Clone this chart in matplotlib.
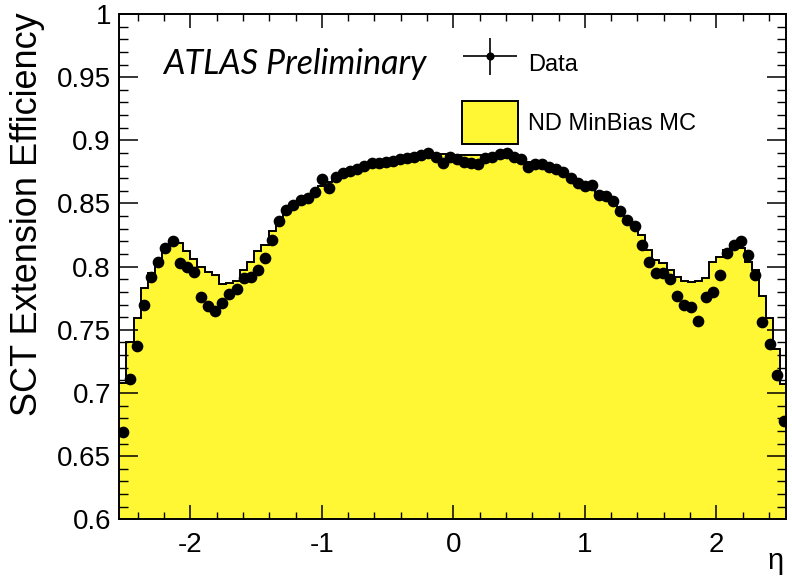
import numpy as np
import matplotlib
matplotlib.use("Agg")
import matplotlib.pyplot as plt
from matplotlib.ticker import MultipleLocator, FuncFormatter
from matplotlib.container import ErrorbarContainer
from matplotlib.legend_handler import HandlerErrorbar

plt.rcParams['axes.unicode_minus'] = False
plt.rcParams['font.family'] = ['Liberation Sans', 'DejaVu Sans']

# ---- data ----
eta_lo, eta_hi, n_bins = -2.54, 2.54, 94

data_eff = [
    0.669, 0.711, 0.737, 0.770, 0.792, 0.804, 0.815, 0.820, 0.803, 0.800,
    0.796, 0.776, 0.769, 0.765, 0.771, 0.778, 0.782, 0.791, 0.792, 0.797,
    0.807, 0.821, 0.836, 0.845, 0.849, 0.853, 0.854, 0.859, 0.869, 0.862,
    0.871, 0.874, 0.876, 0.877, 0.880, 0.882, 0.882, 0.883, 0.884, 0.885,
    0.886, 0.887, 0.888, 0.890, 0.887, 0.882, 0.887, 0.885, 0.883, 0.882,
    0.881, 0.886, 0.887, 0.889, 0.890, 0.887, 0.885, 0.879, 0.881, 0.881,
    0.879, 0.877, 0.875, 0.870, 0.866, 0.864, 0.865, 0.857, 0.856, 0.852,
    0.844, 0.837, 0.832, 0.817, 0.804, 0.795, 0.795, 0.790, 0.777, 0.770,
    0.768, 0.757, 0.776, 0.780, 0.793, 0.811, 0.817, 0.820, 0.809, 0.793,
    0.756, 0.739, 0.714, 0.678,
]

mc_eff = [
    0.708, 0.740, 0.759, 0.783, 0.795, 0.805, 0.813, 0.819, 0.819, 0.812,
    0.806, 0.800, 0.796, 0.793, 0.786, 0.787, 0.789, 0.797, 0.804, 0.812,
    0.817, 0.828, 0.834, 0.843, 0.848, 0.852, 0.856, 0.860, 0.864, 0.867,
    0.870, 0.873, 0.875, 0.877, 0.879, 0.881, 0.882, 0.883, 0.884, 0.885,
    0.886, 0.887, 0.887, 0.888, 0.888, 0.889, 0.889, 0.888, 0.888, 0.888,
    0.888, 0.887, 0.887, 0.887, 0.886, 0.885, 0.884, 0.883, 0.881, 0.880,
    0.878, 0.876, 0.874, 0.871, 0.868, 0.865, 0.862, 0.859, 0.855, 0.850,
    0.843, 0.837, 0.831, 0.825, 0.813, 0.805, 0.803, 0.797, 0.792, 0.789,
    0.788, 0.789, 0.791, 0.804, 0.808, 0.813, 0.818, 0.815, 0.804, 0.797,
    0.777, 0.759, 0.735, 0.7075,
]

x_ticks = [-2, -1, 0, 1, 2]
y_label = "SCT Extension Efficiency"
x_label = "η"
legend_labels = ["Data", "ND MinBias MC"]
atlas_text = "ATLAS Preliminary"

edges = np.linspace(eta_lo, eta_hi, n_bins + 1)
centers = 0.5 * (edges[:-1] + edges[1:])
data_err = np.zeros(len(data_eff))

# ---- figure ----
W, H = 792, 582
fig = plt.figure(figsize=(W / 100, H / 100), dpi=100)
L, R, T, B = 119.3, 786.0, 14.0, 519.3
ax = fig.add_axes([L / W, 1 - B / H, (R - L) / W, (B - T) / H])

yellow = '#FFF634'
ax.stairs(mc_eff, edges, fill=True, color=yellow, zorder=1)
ax.stairs(mc_eff, edges, baseline=None, color='black', lw=1.4, zorder=2)
h_mc = plt.Rectangle((0, 0), 1, 1, facecolor=yellow, edgecolor='black', lw=1.4)

h_data = ax.errorbar(centers, data_eff, xerr=data_err, yerr=data_err, fmt='o',
                     color='black', ms=7.4, lw=1.2, capsize=0, zorder=3)

ax.set_xlim(-2.54, 2.53)
ax.set_ylim(0.6, 1.0)

ax.set_xticks(x_ticks)
ax.xaxis.set_minor_locator(MultipleLocator(0.2))
ax.yaxis.set_major_locator(MultipleLocator(0.05))
ax.yaxis.set_minor_locator(MultipleLocator(0.01))
ax.yaxis.set_major_formatter(FuncFormatter(lambda v, p: '%g' % round(v, 3)))

ax.tick_params(axis='x', which='major', direction='in', length=10, width=1.1,
               top=True, labelsize=20, pad=9)
ax.tick_params(axis='x', which='minor', direction='in', length=5, width=1.0, top=True)
ax.tick_params(axis='y', which='major', direction='in', length=13.5, width=1.1,
               right=True, labelsize=20, pad=6)
ax.tick_params(axis='y', which='minor', direction='in', length=6.8, width=1.0, right=True)
for s in ax.spines.values():
    s.set_linewidth(1.4)

ax.set_ylabel(y_label, fontsize=26, loc='top')
ax.yaxis.set_label_coords(-0.111, 1.004)
ax.set_xlabel(x_label, fontsize=21)
ax.xaxis.set_label_coords(0.985, -0.055)

ax.text(0.066, 0.902, atlas_text, transform=ax.transAxes, fontsize=24.5,
        style='italic', family=['Lato', 'DejaVu Sans'], va='center', ha='left')

fs = 17
fpx = fs * 100 / 72
leg = ax.legend([h_data, h_mc], legend_labels, loc='upper left',
                bbox_to_anchor=(461.7 / W, 1 - 42 / H), bbox_transform=fig.transFigure,
                frameon=False, fontsize=fs, borderpad=0, borderaxespad=0,
                handlelength=56 / fpx, handleheight=1.28 * 45 / fpx,
                handletextpad=0.45, labelspacing=0.66, markerscale=0.65,
                handler_map={ErrorbarContainer: HandlerErrorbar(xerr_size=1.15, yerr_size=0.8)})

fig.savefig('out.png', dpi=100)
